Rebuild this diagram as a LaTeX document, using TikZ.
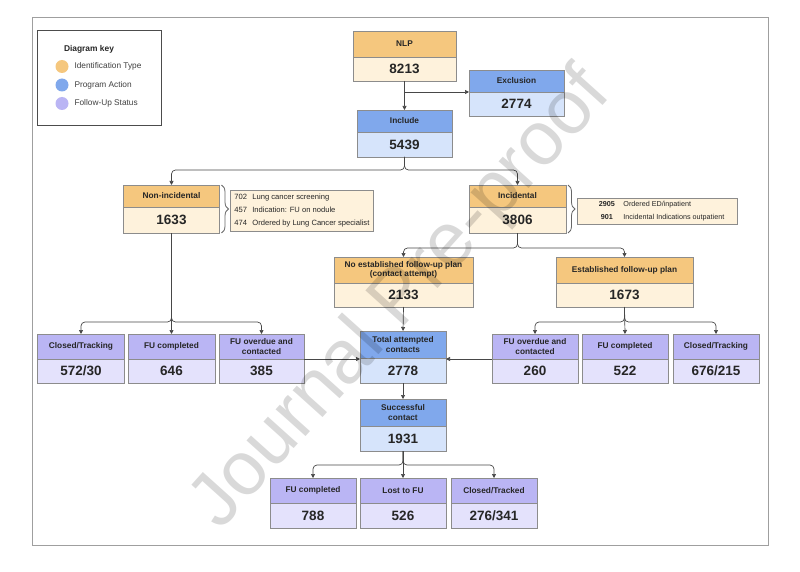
\documentclass[tikz,border=0pt]{standalone}
\usepackage{fontspec}
\setmainfont{Liberation Sans}
\usetikzlibrary{positioning,arrows.meta,decorations.pathreplacing}

\definecolor{idhead}{HTML}{F5C77E}
\definecolor{idbody}{HTML}{FEF2DC}
\definecolor{acthead}{HTML}{80A8EC}
\definecolor{actbody}{HTML}{D6E4FB}
\definecolor{fuhead}{HTML}{BAB5F4}
\definecolor{fubody}{HTML}{E4E2FC}
\definecolor{boxline}{HTML}{8C8C8C}
\definecolor{ink}{HTML}{262626}

\tikzset{
  head/.style={draw=boxline, line width=.8pt, outer sep=0pt, inner sep=1pt, align=center,
    text=ink, font=\bfseries\fontsize{8.3}{9.5}\selectfont, anchor=north},
  numb/.style={draw=boxline, line width=.8pt, outer sep=0pt, inner sep=1pt,
    text=ink, font=\bfseries\fontsize{13.5}{14}\selectfont},
  idh/.style={head, fill=idhead}, idn/.style={numb, fill=idbody},
  acth/.style={head, fill=acthead}, actn/.style={numb, fill=actbody},
  fuh/.style={head, fill=fuhead}, fun/.style={numb, fill=fubody},
  info/.style={draw=boxline, line width=.8pt, fill=idbody, align=left, text=ink},
  conn/.style={draw=black!72, line width=.7pt, rounded corners=4pt},
  arr/.style={conn, -{Triangle[length=4pt,width=4pt]}},
  curly/.style={draw=black!60, line width=.8pt, decorate, decoration={brace, amplitude=7pt}},
}

\begin{document}
\begin{tikzpicture}[x=1pt, y=-1pt]
  \useasboundingbox (0,0) rectangle (800,572);
  \fill[white] (0,0) rectangle (800,572);
  \draw[gray!75, line width=1pt] (32,18) rectangle (768,545);

  % key
  \node[draw=black!70, line width=.8pt, minimum width=124, minimum height=95, anchor=north west] (key) at (37,30) {};
  \node[text=ink, font=\bfseries\fontsize{8.4}{9}\selectfont] (keytitle) at (89,49) {Diagram key};
  \foreach \c/\t [count=\i] in {idhead/Identification Type, acthead/Program Action, fuhead/Follow-Up Status}
  {
    \fill[\c] (62,48+18.5*\i) circle (6.5);
    \node[anchor=west, text=black!75, font=\fontsize{8.3}{9}\selectfont] (key\i) at (71,48+18.5*\i) {\t};
  }

  % top
  \node[idh, minimum width=103, minimum height=26] (nlp) at (404.5,31) {NLP};
  \node[idn, minimum width=103, minimum height=24, below=0pt of nlp] (nlpn) {8213};

  \node[acth, minimum width=95, minimum height=22] (excl) at (516.5,70) {Exclusion};
  \node[actn, minimum width=95, minimum height=24, below=0pt of excl] (excln) {2774};

  \node[acth, minimum width=95, minimum height=22] (incl) at (404.5,110) {Include};
  \node[actn, minimum width=95, minimum height=25, below=0pt of incl] (incln) {5439};

  % identification types
  \node[idh, minimum width=96, minimum height=22] (nonin) at (171.5,185) {Non-incidental};
  \node[idn, minimum width=96, minimum height=26, below=0pt of nonin] (noninn) {1633};

  \node[idh, minimum width=97, minimum height=22] (incid) at (517.5,185) {Incidental};
  \node[idn, minimum width=97, minimum height=26, below=0pt of incid] (incidn) {3806};

  \node[info, anchor=north west, inner sep=2.5pt, minimum width=143, minimum height=41,
    font=\fontsize{7.6}{13}\selectfont] (noninfo) at (230,190)
    {\makebox[18pt][l]{702}Lung cancer screening\\
     \makebox[18pt][l]{457}Indication: FU on nodule\\
     \makebox[18pt][l]{474}Ordered by Lung Cancer specialist};
  \node[info, anchor=north west, inner sep=3pt, minimum width=160, minimum height=26,
    font=\fontsize{7.2}{13}\selectfont] (incinfo) at (577,198)
    {\makebox[33pt]{\bfseries 2905}Ordered ED/inpatient\\
     \makebox[33pt]{\bfseries 901}Incidental Indications outpatient};

  \draw[curly] ([xshift=2pt]nonin.north east) -- ([xshift=2pt]noninn.south east);
  \draw[curly] ([xshift=2pt]incid.north east) -- ([xshift=2pt]incidn.south east);

  % follow-up plans
  \node[idh, minimum width=139, minimum height=26] (noplan) at (403.5,257) {No established follow-up plan\\(contact attempt)};
  \node[idn, minimum width=139, minimum height=24, below=0pt of noplan] (noplann) {2133};

  \node[idh, minimum width=137, minimum height=26] (plan) at (624.5,257) {Established follow-up plan};
  \node[idn, minimum width=137, minimum height=24, below=0pt of plan] (plann) {1673};

  % status row
  \node[fuh, minimum width=87, minimum height=25] (clL) at (81,334) {Closed/Tracking};
  \node[fun, minimum width=87, minimum height=24, below=0pt of clL] (clLn) {572/30};
  \node[fuh, minimum width=87, minimum height=25] (fcL) at (171.5,334) {FU completed};
  \node[fun, minimum width=87, minimum height=24, below=0pt of fcL] (fcLn) {646};
  \node[fuh, minimum width=85, minimum height=25] (ovL) at (261.5,334) {FU overdue and\\contacted};
  \node[fun, minimum width=85, minimum height=24, below=0pt of ovL] (ovLn) {385};

  \node[acth, minimum width=86, minimum height=27] (total) at (403,331) {Total attempted\\contacts};
  \node[actn, minimum width=86, minimum height=25, below=0pt of total] (totaln) {2778};

  \node[fuh, minimum width=86, minimum height=25] (ovR) at (535,334) {FU overdue and\\contacted};
  \node[fun, minimum width=86, minimum height=24, below=0pt of ovR] (ovRn) {260};
  \node[fuh, minimum width=86, minimum height=25] (fcR) at (625,334) {FU completed};
  \node[fun, minimum width=86, minimum height=24, below=0pt of fcR] (fcRn) {522};
  \node[fuh, minimum width=86, minimum height=25] (clR) at (716,334) {Closed/Tracking};
  \node[fun, minimum width=86, minimum height=24, below=0pt of clR] (clRn) {676/215};

  \node[acth, minimum width=86, minimum height=27] (succ) at (403,399) {Successful\\contact};
  \node[actn, minimum width=86, minimum height=25, below=0pt of succ] (succn) {1931};

  % bottom row
  \node[fuh, minimum width=86, minimum height=25] (fcB) at (313,478) {FU completed};
  \node[fun, minimum width=86, minimum height=25, below=0pt of fcB] (fcBn) {788};
  \node[fuh, minimum width=86, minimum height=25] (lost) at (403,478) {Lost to FU};
  \node[fun, minimum width=86, minimum height=25, below=0pt of lost] (lostn) {526};
  \node[fuh, minimum width=86, minimum height=25] (clB) at (494,478) {Closed/Tracked};
  \node[fun, minimum width=86, minimum height=25, below=0pt of clB] (clBn) {276/341};

  % connectors
  \draw[arr] (nlpn.south) -- (incl.north);
  \draw[arr] (nlpn.south |- excln.north west) -- (excln.north west);
  \draw[arr] (incln.south) -- ++(0,13) -| (nonin.north);
  \draw[arr] (incln.south) -- ++(0,13) -| (incid.north);

  \draw[arr] (noninn.south) -- (fcL.north);
  \draw[arr] (noninn.south) -- ++(0,89) -| (clL.north);
  \draw[arr] (noninn.south) -- ++(0,89) -| (ovL.north);

  \draw[arr] (incidn.south) -- ++(0,15) -| (noplan.north);
  \draw[arr] (incidn.south) -- ++(0,15) -| (plan.north);
  \draw[arr] (noplann.south) -- (total.north);

  \draw[arr] (plann.south) -- (fcR.north);
  \draw[arr] (plann.south) -- ++(0,15) -| (ovR.north);
  \draw[arr] (plann.south) -- ++(0,15) -| (clR.north);

  \draw[arr] (ovLn.north east) -- (ovLn.north east -| total.west);
  \draw[arr] (ovRn.north west) -- (ovRn.north west -| total.east);
  \draw[arr] (totaln.south) -- (succ.north);

  \draw[arr] (succn.south) -- (lost.north);
  \draw[arr] (succn.south) -- ++(0,14) -| (fcB.north);
  \draw[arr] (succn.south) -- ++(0,14) -| (clB.north);

  % watermark
  \node[rotate=48, text=black, text opacity=.15, font=\fontsize{76}{76}\selectfont] (mark) at (402,300) {Journal Pre-proof};
\end{tikzpicture}
\end{document}
